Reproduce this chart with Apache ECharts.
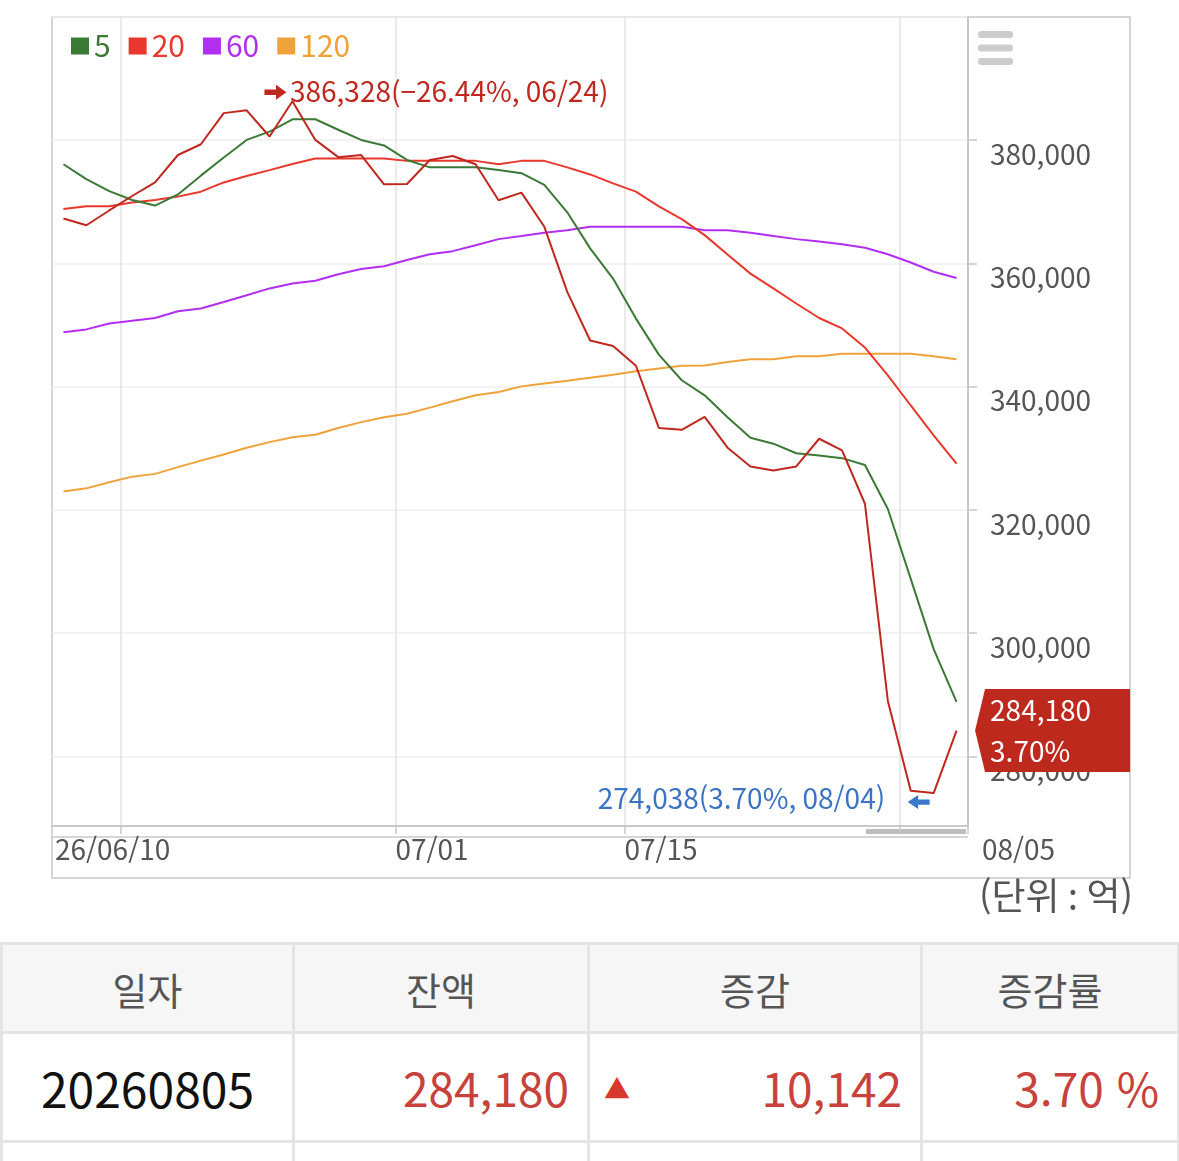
<!DOCTYPE html>
<html lang="ko">
<head>
<meta charset="UTF-8">
<title>잔액 추이</title>
<script src="https://cdn.jsdelivr.net/npm/echarts@6.0.0/dist/echarts.min.js"></script>
<style>
    body { margin: 0; background: #fff; font-family: "Noto Sans CJK KR", sans-serif; }
    #chart { position: absolute; left: 0; top: 0; width: 1179px; height: 940px; }
    #tbl { position: absolute; left: 0; top: 942px; width: 1177px; border-collapse: collapse; table-layout: fixed; }
    #tbl th, #tbl td { border: 3px solid #e4e4e4; padding: 0; }
    #tbl th { height: 86px; background: #f6f6f6; color: #555; font-weight: normal; font-size: 38px; }
    #tbl td { height: 106px; font-size: 46px; position: relative; }
    #tbl td.num { text-align: right; padding-right: 18px; color: #c8413a; }
    #tbl td.day { text-align: center; color: #111; font-size: 48px; }
    #tbl .up { position: absolute; left: 14px; top: 50%; transform: translateY(-50%); font-size: 26px; color: #d9392d; }
</style>
</head>
<body>
<div id="chart"></div>
<table id="tbl">
    <colgroup><col style="width:292px"><col style="width:295px"><col style="width:333px"><col style="width:257px"></colgroup>
    <tr><th>일자</th><th>잔액</th><th>증감</th><th>증감률</th></tr>
    <tr><td class="day" id="cDay"></td><td class="num" id="cBal"></td><td class="num"><span class="up">▲</span><span id="cDiff"></span></td><td class="num" id="cRate"></td></tr>
    <tr><td style="height:20px"></td><td style="height:20px"></td><td style="height:20px"></td><td style="height:20px"></td></tr>
</table>
<script>
    // 단위: 억
    var year = '2026';
    var dates = ['06/10','06/11','06/12','06/15','06/16','06/17','06/18','06/19','06/22','06/23',
        '06/24','06/25','06/26','06/29','06/30','07/01','07/02','07/03','07/06','07/07',
        '07/08','07/09','07/10','07/13','07/14','07/15','07/16','07/20','07/21','07/22',
        '07/23','07/24','07/27','07/28','07/29','07/30','07/31','08/03','08/04','08/05'];

    var balance = [367300, 366200, 368600, 370950, 373170, 377600, 379350, 384400, 384850, 380600,
        386328, 380050, 377250, 377600, 372850, 372900, 376800, 377450, 376100, 370250,
        371500, 365950, 355400, 347500, 346600, 343400, 333300, 333000, 335100, 330100,
        327050, 326400, 327050, 331550, 329650, 321000, 289000, 274420, 274038, 284180];

    var ma5 = [376100, 373700, 371750, 370300, 369400, 371200, 374250, 377200, 380050, 381400,
        383400, 383400, 381700, 380050, 379150, 376800, 375600, 375600, 375600, 375150,
        374650, 372750, 368300, 362450, 357550, 351050, 345200, 341050, 338600, 335050,
        331700, 330750, 329200, 328850, 328400, 327300, 320150, 308800, 297400, 288850];

    var ma20 = [368850, 369300, 369300, 369900, 370300, 370850, 371650, 373150, 374200, 375150,
        376150, 377050, 377050, 377050, 377050, 376650, 376650, 376650, 376650, 376100,
        376650, 376650, 375600, 374450, 373000, 371650, 369250, 367200, 364600, 361450,
        358350, 355950, 353500, 351150, 349450, 346350, 341850, 336950, 332100, 327500];

    var ma60 = [348850, 349300, 350250, 350700, 351150, 352250, 352700, 353750, 354850, 355950,
        356750, 357200, 358250, 359100, 359550, 360550, 361500, 362000, 362950, 363950,
        364450, 365000, 365400, 365950, 365950, 365950, 365950, 365950, 365400, 365400,
        365000, 364450, 363950, 363550, 363100, 362550, 361500, 360150, 358650, 357650];

    var ma120 = [323000, 323500, 324500, 325400, 325850, 326950, 328000, 329000, 330100, 331000,
        331800, 332200, 333300, 334250, 335050, 335600, 336600, 337650, 338600, 339150,
        340050, 340500, 340950, 341450, 341950, 342500, 342950, 343400, 343450, 344000,
        344450, 344450, 344950, 344950, 345350, 345350, 345350, 345350, 344950, 344450];

    // x축 라벨 (구간 경계 기준)
    var xLabels = ['26/06/10', '07/01', '07/15', '08/05'];
    var xLabelAt = [0, 15, 25, 40];

    var yMin = 268700, yMax = 400000;

    var C_BAL = '#c0281f', C5 = '#3b7a34', C20 = '#e8372d', C60 = '#b22ff0', C120 = '#f0a23a';
    var C_BLUE = '#3a74c4';

    function fmt(v) { return v.toLocaleString('en-US'); }
    function pct(v) { return (v < 0 ? '\u2212' : '') + Math.abs(v).toFixed(2) + '%'; }

    // 매월 1일, 15일 이후 첫 거래일에 세로선
    function isBoundary(i) {
        if (i <= 0 || i >= dates.length) return false;
        var m0 = dates[i - 1].slice(0, 2), m1 = dates[i].slice(0, 2);
        var d0 = +dates[i - 1].slice(3), d1 = +dates[i].slice(3);
        return m0 !== m1 || (d1 >= 15 && d0 < 15);
    }

    var last = balance.length - 1;
    var lastVal = balance[last], prevVal = balance[last - 1];
    var maxVal = Math.max.apply(null, balance), maxIdx = balance.indexOf(maxVal);
    var minVal = Math.min.apply(null, balance), minIdx = balance.indexOf(minVal);
    var dayRate = (lastVal - prevVal) / prevVal * 100;
    var fromMax = (lastVal / maxVal - 1) * 100;
    var fromMin = (lastVal / minVal - 1) * 100;

    var FONT = 'Noto Sans CJK KR';
    var ARROW_R = 'path://M0,5L11,5L11,0L21,8L11,16L11,11L0,11Z';
    var ARROW_L = 'path://M21,5L10,5L10,0L0,8L10,16L10,11L21,11Z';
    var HIDE = { color: 'rgba(0,0,0,0)' };

    var mychart = echarts.init(document.getElementById('chart'));
    var option = {
        animation: false,
        textStyle: { fontFamily: FONT },
        legend: {
            left: 71, top: 31, padding: 0,
            icon: 'rect', itemWidth: 18, itemHeight: 17, itemGap: 18,
            textStyle: { fontSize: 30, fontFamily: FONT },
            data: [
                { name: '5', textStyle: { color: C5 } },
                { name: '20', textStyle: { color: C20 } },
                { name: '60', textStyle: { color: C60 } },
                { name: '120', textStyle: { color: C120 } }
            ]
        },
        grid: { left: 52, top: 17, right: 211, bottom: 114, containLabel: false },
        xAxis: [{
            type: 'category',
            data: dates,
            boundaryGap: true,
            axisLine: { lineStyle: { color: '#bdbdbd', width: 1.5 } },
            axisTick: { show: true, interval: isBoundary, length: 8, lineStyle: { color: '#c8c8c8', width: 1.5 } },
            axisLabel: { show: false },
            splitLine: { show: true, interval: isBoundary, lineStyle: { color: '#e3e3e3', width: 1.5 } }
        }, {
            type: 'value',
            position: 'bottom',
            min: -0.5, max: dates.length - 0.5, interval: 1,
            axisLine: { show: false }, axisTick: { show: false }, splitLine: { show: false },
            axisLabel: {
                show: true, margin: 9, fontSize: 28, color: '#555', align: 'left', fontFamily: FONT,
                showMinLabel: true, showMaxLabel: true,
                formatter: function (v) {
                    var k = xLabelAt.indexOf(Math.round(v + 0.5));
                    if (k < 0) return '';
                    if (k === 0) return '{f|' + xLabels[k] + '}';
                    if (k === xLabels.length - 1) return '{l|' + xLabels[k] + '}';
                    return xLabels[k];
                },
                rich: {
                    f: { fontSize: 28, color: '#555', padding: [0, 0, 0, 3], fontFamily: FONT },
                    l: { fontSize: 28, color: '#555', padding: [0, 0, 0, 14], fontFamily: FONT }
                }
            }
        }],
        yAxis: {
            type: 'value',
            position: 'right',
            min: yMin, max: yMax, splitNumber: 6,
            axisLine: { show: true, onZero: false, lineStyle: { color: '#bdbdbd', width: 1.5 } },
            axisTick: { show: true, length: 9, lineStyle: { color: '#c8c8c8', width: 1.5 } },
            axisLabel: {
                margin: 22, fontSize: 28, color: '#555', align: 'left', verticalAlign: 'top', fontFamily: FONT,
                showMinLabel: false, showMaxLabel: false,
                formatter: function (v) { return fmt(v); }
            },
            splitLine: { lineStyle: { color: '#eeeeee', width: 1.5 } }
        },
        series: [
            { name: '120', type: 'line', data: ma120, symbol: 'none', color: C120, lineStyle: { width: 2 } },
            { name: '60', type: 'line', data: ma60, symbol: 'none', color: C60, lineStyle: { width: 2 } },
            { name: '20', type: 'line', data: ma20, symbol: 'none', color: C20, lineStyle: { width: 2 } },
            { name: '5', type: 'line', data: ma5, symbol: 'none', color: C5, lineStyle: { width: 2 } },
            {
                name: '잔액', type: 'line', data: balance, symbol: 'none', color: C_BAL, lineStyle: { width: 2 },
                clip: false,
                markPoint: {
                    silent: true,
                    data: [{
                        // 최고점 표시
                        coord: [maxIdx, maxVal], symbol: ARROW_R, symbolSize: [22, 15], symbolOffset: [-17, -9],
                        itemStyle: { color: C_BAL }, label: { show: false }
                    }, {
                        coord: [maxIdx, maxVal], symbol: 'circle', symbolSize: 1, itemStyle: HIDE,
                        label: {
                            show: true, position: [-2, -9], align: 'left', verticalAlign: 'middle',
                            fontSize: 28, color: C_BAL, fontFamily: FONT,
                            formatter: fmt(maxVal) + '(' + pct(fromMax) + ', ' + dates[maxIdx] + ')'
                        }
                    }, {
                        // 최저점 표시
                        coord: [minIdx, minVal], symbol: ARROW_L, symbolSize: [22, 14], symbolOffset: [-15, 9],
                        itemStyle: { color: '#3a78cc' }, label: { show: false }
                    }, {
                        coord: [minIdx, minVal], symbol: 'circle', symbolSize: 1, itemStyle: HIDE,
                        label: {
                            show: true, position: [-48, 6], align: 'right', verticalAlign: 'middle',
                            fontSize: 28, color: C_BLUE, fontFamily: FONT,
                            formatter: fmt(minVal) + '(' + pct(fromMin) + ', ' + dates[minIdx] + ')'
                        }
                    }, {
                        // 현재값 태그
                        coord: [last, lastVal],
                        symbol: 'path://M10,0L155,0L155,83L10,83L0,41.5Z',
                        symbolSize: [155, 83], symbolOffset: [96, 0],
                        itemStyle: { color: '#be291e' },
                        label: {
                            show: true, position: [15, 42], align: 'left', verticalAlign: 'middle',
                            lineHeight: 41, fontSize: 28, color: '#fff', fontFamily: FONT,
                            formatter: fmt(lastVal) + '\n' + pct(dayRate)
                        }
                    }]
                }
            }
        ],
        graphic: [
            { type: 'rect', silent: true, shape: { x: 52, y: 17, width: 1078, height: 861 },
              style: { fill: 'none', stroke: '#c8c8c8', lineWidth: 1.5 } },
            { type: 'line', silent: true, shape: { x1: 52, y1: 837, x2: 968, y2: 837 },
              style: { stroke: '#c8c8c8', lineWidth: 1.5 } },
            { type: 'rect', silent: true, shape: { x: 866, y: 829, width: 100, height: 5 },
              style: { fill: '#bdbdbd' } },
            { type: 'rect', silent: true, shape: { x: 978, y: 31, width: 35, height: 7, r: 3 }, style: { fill: '#cccccc' } },
            { type: 'rect', silent: true, shape: { x: 978, y: 44.5, width: 35, height: 7, r: 3 }, style: { fill: '#cccccc' } },
            { type: 'rect', silent: true, shape: { x: 978, y: 58, width: 35, height: 7, r: 3 }, style: { fill: '#cccccc' } },
            { type: 'text', silent: true, left: 979, top: 877,
              style: { text: '(단위 : 억)', fontSize: 37, fill: '#555', fontFamily: FONT } }
        ]
    };
    mychart.setOption(option);

    document.getElementById('cDay').textContent = year + dates[last].replace('/', '');
    document.getElementById('cBal').textContent = fmt(lastVal);
    document.getElementById('cDiff').textContent = fmt(lastVal - prevVal);
    document.getElementById('cRate').textContent = dayRate.toFixed(2) + ' %';
</script>
</body>
</html>
